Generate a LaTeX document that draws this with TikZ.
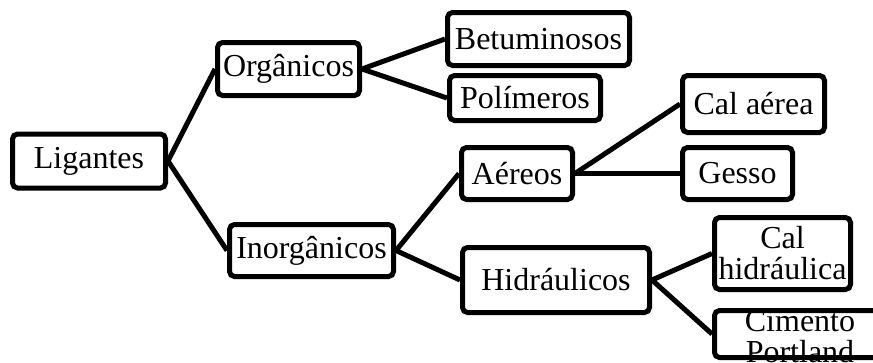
\documentclass[tikz,border=0pt]{standalone}
\usepackage{fontspec}
\setmainfont{Liberation Serif}
\usepackage{tikz}
\usetikzlibrary{shapes,positioning}

\begin{document}
\begin{tikzpicture}[x=1pt, y=-1pt, line width=5pt,
        every node/.append style={font=\fontsize{32}{31}\selectfont}]
      \tikzstyle{box} = [draw, rounded corners=5pt, inner sep=2pt, align=center]
      \useasboundingbox (0,0) rectangle (873,362);
      \clip (0,0) rectangle (873,362);
      \node (LIG) [box, minimum width=153pt, minimum height=54pt] at (89,161) {Ligantes};
      \node (ORG) [box, minimum width=142pt, minimum height=53pt] at (288.5,69) {Orgânicos};
      \node (INORG) [box, minimum width=164pt, minimum height=52pt] at (311.5,250.5) {Inorgânicos};
      \node (BET) [box, minimum width=182pt, minimum height=53pt] at (538.5,39) {Betuminosos};
      \node (POL) [box, minimum width=151pt, minimum height=45pt] at (525,98) {Polímeros};
      \node (AER) [box, minimum width=111pt, minimum height=52pt] at (517,173.5) {Aéreos};
      \node (HID) [box, minimum width=187pt, minimum height=65pt] at (556,280) {Hidráulicos};
      \node (CALAER) [box, minimum width=142pt, minimum height=57pt] at (753.5,104) {Cal aérea};
      \node (GES) [box, minimum width=110pt, minimum height=52pt] at (737.5,173.5) {Gesso};
      \node (CALHID) [box, minimum width=136pt, minimum height=72pt] at (782.5,253.5) {Cal\\hidráulica};
      \node (CIM) [box, minimum width=171pt, minimum height=47pt] at (800,334) {};
      \node (CIMTXT) [align=center, inner sep=0pt] at (800,337) {Cimento\\Portland};
      \draw (LIG.east) -- (ORG.west);
      \draw (LIG.east) -- (INORG.west);
      \draw (ORG.east) -- (BET.west);
      \draw (ORG.east) -- (POL.west);
      \draw (INORG.east) -- (AER.west);
      \draw (INORG.east) -- (HID.west);
      \draw (AER.east) -- (CALAER.west);
      \draw (AER.east) -- (GES.west);
      \draw (HID.east) -- (CALHID.west);
      \draw (HID.east) -- (CIM.west);
    \end{tikzpicture}
\end{document}
